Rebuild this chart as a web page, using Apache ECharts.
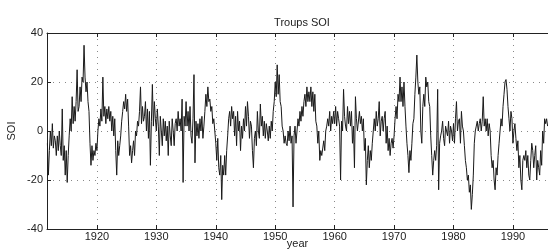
<!DOCTYPE html>
<html>
<head>
<meta charset="utf-8">
<script src="https://cdn.jsdelivr.net/npm/echarts@6/dist/echarts.min.js"></script>
<style>
  html, body { margin: 0; padding: 0; background: #fff; }
  #chart { width: 548px; height: 250px; }
</style>
</head>
<body>
<div id="chart"></div>
<script>
// bimonthly values, first value at 1911 + 4/6
const startYear = 1911 + 4 / 6
const perYear = 6
const soi1910s = [-5, -18,
  -8, 0, -6, 3, -7, -2,      -4, -10, -2, -8, 0, -6,     -10, 9, -12, -6, -18, -8,
  -21, -10, -2, 5, 0, 14,    3, 10, 4, 12, 25, 8,        10, 18, 12, 22, 20, 35,
  22, 16, 20, 12, 8, -5,     -14, -6, -12, -8, -10, -5]
const soi1920s = [-8, 0, 5, 2, 9, 4,   22, 6, 10, 3, 9, 5,   10, 4, 8, 0, 6, -2,
  5, -8, -18, -4, -10, -6,   -2, 4, 8, 12, 9, 15,   8, 13, 2, -10, -6, -13,
  -8, -4, -10, 0, -2, 4,     2, 8, 18, 3, 10, 4,    6, 12, 0, 9, -3, 8,
  -14, 4, 19, 2, 12, 5]
const soi1930s = [0, 9, 2, -10, 6, 0,   -6, 5, -2, 4, -4, 2,   -10, 4, -2, -6, 5, 0,
  -6, 3, 5, 0, 8, 2,   5, 0, 13, -21, 6, 2,   12, 2, 8, 0, 10, -2,
  -5, 5, 23, -13, 4, -2,   3, -3, 5, 0, 6, -3,   2, 8, 15, 10, 18, 12,
  13, 8, 10, 3, 5, 0]
const soi1940s = [-5, -12, -3, -15, -18, -10,   -28, -14, -18, -10, -18, -8,   -2, 5, 8, 2, 10, 5,
  8, -2, 6, -6, 8, 0,   4, -8, 2, -3, 5, 0,   10, 2, 12, 6, -3, 4,
  2, -8, -15, -3, 0, -6,   8, 0, -3, 11, 2, 6,   -2, 4, -3, 3, 0, -4,
  2, -3, 4, 0, 8, 12]
const soi1950s = [20, 14, 27, 15, 23, 12,   10, 2, 0, -5, -2, -5,   -6, 0, -4, 2, -5, -2,
  -31, -2, 2, -5, 0, 5,   2, 8, 4, 10, 6, 12,   15, 10, 18, 12, 16, 12,
  18, 10, 16, 8, 15, 4,   2, -5, 0, -12, -8, -10,   -10, -4, -8, 0, 2, 5,
  2, 8, 0, 6, 3, 8]
const soi1960s = [3, 10, 2, 8, 5, 2,   -20, 4, 0, 17, 6, 2,   0, 10, 3, 8, 2, 8,
  -5, 2, -15, 14, 5, 0,   0, 8, 3, 6, 0, 5,   -8, -3, -22, -12, -6, -15,
  -8, -12, -5, 0, 5, 0,   8, 2, 5, 12, -2, 4,   6, 0, 5, 8, -5, 2,
  -8, -3, -10, -5, -3, -7]
const soi1970s = [-2, 5, 10, 5, 15, 12,   22, 12, 18, 10, 20, 10,   2, -5, -10, -17, -8, -12,
  -5, 3, 5, 15, 22, 31,   20, 15, 18, 0, -5, 10,   15, 10, 22, 18, 20, 12,
  10, -2, -10, -18, -12, -8,   -12, -6, 17, -24, -5, -2,   0, 4, -3, -6, 2, 0,
  -2, 4, -5, 2, 0, -4]
const soi1980s = [3, -5, 5, 12, 0, 4,   5, -5, 8, 2, 0, -6,   -12, -15, -20, -18, -25, -22,
  -32, -26, -18, -5, 0, 2,   4, 0, 3, 5, 0, 4,   14, 2, 5, 0, 5, -2,
  3, 0, -10, -15, -12, -20,   -24, -15, -18, -10, -5, 0,   5, 2, 10, 15, 20, 21,
  17, 10, 5, 0, 8, 5]
const soi1990s = [-5, 0, 3, -3, -8, -4,   -15, -10, -20, -24, -12, -10,   -12, -8, -15, -10, -18, -20,
  -12, -5, -8, -15, -10, -6,   -20, -12, -15, -18, -8, -14,   0, -5, 5, 3, 5, 2]

const yTicks = [-40, -20, 0, 20, 40]

const soi = [].concat(soi1910s, soi1920s, soi1930s, soi1940s, soi1950s,
  soi1960s, soi1970s, soi1980s, soi1990s)
const points = soi.map((v, i) => [startYear + i / perYear, v])

const font = 'Liberation Sans, Arial, sans-serif'
const Chart = echarts.init(document.getElementById('chart'))
const xBase = {
  type: 'value',
  min: 1911.6,
  max: 1995.9,
  splitNumber: 8,
  axisLine: { show: true, onZero: false, lineStyle: { color: '#222', width: 1 } },
  axisTick: { show: true, inside: true, length: 4, lineStyle: { color: '#222' } }
}
const option = {
  animation: false,
  backgroundColor: '#fff',
  title: {
    text: 'Troups SOI',
    left: 297,
    textAlign: 'center',
    top: 12,
    textStyle: { fontSize: 11, fontWeight: 'normal', color: '#222', fontFamily: font }
  },
  grid: { left: 47, right: 0, top: 33, bottom: 21, containLabel: false, outerBoundsMode: 'none' },
  xAxis: [
    Object.assign({}, xBase, {
      position: 'bottom',
      name: 'year',
      nameLocation: 'middle',
      nameGap: 9,
      nameMoveOverlap: false,
      nameTextStyle: { fontSize: 11, color: '#222', fontFamily: font },
      axisLabel: {
        fontSize: 11, color: '#222', fontFamily: font, margin: 2,
        showMinLabel: false, showMaxLabel: false,
        formatter: v => (v % 10 === 0 ? String(v) : '')
      },
      splitLine: { show: true, lineStyle: { color: '#888', type: [1, 5], width: 1 } }
    }),
    Object.assign({}, xBase, {
      position: 'top',
      axisLabel: { show: false },
      splitLine: { show: false }
    })
  ],
  yAxis: {
    type: 'value',
    min: yTicks[0],
    max: yTicks[yTicks.length - 1],
    interval: 20,
    name: 'SOI',
    nameLocation: 'middle',
    nameGap: 30,
    nameMoveOverlap: false,
    nameTextStyle: { fontSize: 11, color: '#222', fontFamily: font },
    axisLine: { show: true, lineStyle: { color: '#222', width: 1 } },
    axisTick: { show: true, inside: true, length: 4, lineStyle: { color: '#222' } },
    axisLabel: { fontSize: 11, color: '#222', fontFamily: font, margin: 4 },
    splitLine: { show: true, lineStyle: { color: '#888', type: [1, 5], width: 1 } }
  },
  series: [
    {
      type: 'line',
      data: points,
      symbol: 'none',
      clip: true,
      lineStyle: { color: '#1a1a1a', width: 1 }
    }
  ]
}
option && Chart.setOption(option)
</script>
</body>
</html>
